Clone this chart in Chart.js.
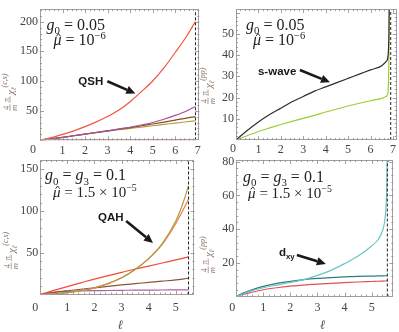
<!DOCTYPE html>
<html><head><meta charset="utf-8">
<script src="https://cdn.jsdelivr.net/npm/chart.js@4.4.1/dist/chart.umd.min.js"></script>
<style>
html,body{margin:0;padding:0;background:#fff;}
#wrap{position:relative;width:399px;height:332px;overflow:hidden;background:#fff;}
#wrap canvas{position:absolute;left:0;top:0;}
</style></head><body>
<div id="wrap">
<canvas id="c1" width="399" height="332"></canvas>
<canvas id="c2" width="399" height="332"></canvas>
<canvas id="c3" width="399" height="332"></canvas>
<canvas id="c4" width="399" height="332"></canvas>
</div>
<script>
// ---------- DATA ----------
// Panel 1 : chi^(c,s), g0 = 0.05
const p1Ell    = [0,0.5,1,1.5,2,2.5,3,3.5,4,4.5,5,5.5,6,6.5,6.9];
const p1Red    = [0,4.5,10,16,23,31,40,51,65,82,100,122,148,175,200];
const p1Purple = [0,2.5,5,7.7,10.5,13.2,16,19,22,25.8,30,35.5,42,49.5,57];
const p1Brown  = [0,2.5,5,7.7,10.5,13.2,16,18.7,21.5,24.5,27.5,30.7,34,37.5,40];
const p1Olive  = [0,2.5,5,7.7,10.5,13,15.5,17.8,20,22.3,24.5,26.8,29,31.3,33];
const p1Zero   = [0,0,0,0,0,0,0,0,0,0,0,0,0,0,0];
const p1Limit  = 6.9;
const p1YTicks = [0,50,100,150,200];

// Panel 2 : chi^(pp), g0 = 0.05
const p2Ell   = [0,0.5,1,1.5,2,2.5,3,3.5,4,4.5,5,5.5,6,6.5,6.7,6.78,6.82,6.84];
const p2Black = [0,4.5,8.5,12,15,18,20.5,23,25,27,29,31,33,35,37,39.5,50,70];
const p2Green = [0,2,4,5.7,7.3,8.8,10.2,11.6,13.2,14.6,16,17.3,18.5,19.6,20.5,22.5,40,70];
const p2Zero  = [0,0,0,0,0,0,0,0,0,0,0,0,0,0,0,0,0,0];
const p2Limit = 6.9;
const p2YTicks = [0,10,20,30,40,50];

// Panel 3 : chi^(c,s), g0 = g3 = 0.1
const p3Ell    = [0,0.5,1,1.5,2,2.5,3,3.5,4,4.5,5,5.25,5.47];
const p3Olive  = [0,0.8,2.3,4.6,8,13,20,30,43,61,88,108,130];
const p3Orange = [0,0.8,2.3,4.6,8,13,20,30,43,60,85,100,114];
const p3Red    = [0,5,9.5,14,18.5,22.5,26.5,30.5,34,37.7,41.5,43.3,45];
const p3Brown  = [0,2.5,4.5,6.3,8,9.8,11.5,13,14.5,16,17.5,18.5,19.5];
const p3Purple = [0,2.5,3.8,4.3,4.6,4.8,5,5.2,5.3,5.4,5.5,5.55,5.6];
const p3Zero   = [0,0,0,0,0,0,0,0,0,0,0,0,0];
const p3Limit  = 5.47;
const p3YTicks = [0,50,100,150];

// Panel 4 : chi^(pp), g0 = g3 = 0.1
const p4Ell  = [0,0.25,0.5,1,1.5,2,2.5,3,3.5,4,4.5,5,5.25,5.4,5.5,5.55,5.58];
const p4Cyan = [0,1.5,3,5.2,6.8,8.3,10,12.5,15.5,19.5,24,30,34,39,47,60,85];
const p4Teal = [0,2,3.5,6,7.8,9,10,10.7,11.2,11.6,11.9,12.1,12.2,12.25,12.3,12.3,12.3];
const p4Red  = [0,1.2,2.2,4,5.2,6.1,6.8,7.3,7.8,8.2,8.6,8.9,9.05,9.15,9.2,9.25,9.3];
const p4Zero = [0,0,0,0,0,0,0,0,0,0,0,0,0,0,0,0,0];
const p4Limit = 5.58;
const p4YTicks = [0,20,40,60,80];

// ---------- HELPERS ----------
const SERIF = '"Liberation Serif","DejaVu Serif",serif';
const SANS  = '"Liberation Sans","DejaVu Sans",sans-serif';

function pts(xs, ys){ return xs.map((x,i)=>({x:x, y:ys[i]})); }
function curve(label, xs, ys, color, order){
  return {label, data:pts(xs,ys), borderColor:color, borderWidth:1.2, pointRadius:0,
          fill:false, cubicInterpolationMode:'monotone', order};
}
function vline(xv, ymax){
  return {label:'limit', data:[{x:xv,y:0},{x:xv,y:ymax}], borderColor:'#222', borderWidth:1,
          borderDash:[3,2], pointRadius:0, fill:false, order:-5};
}

function drawRich(ctx, x, y, segs, size, color){
  let cx = x;
  ctx.fillStyle = color; ctx.strokeStyle = color;
  ctx.textBaseline = 'alphabetic'; ctx.textAlign = 'left';
  for (const s of segs){
    let fs = size, dy = 0;
    if (s.sub){ fs = size*0.68; dy = size*0.28; }
    if (s.sup){ fs = size*0.66; dy = -size*0.42; }
    ctx.font = (s.it?'italic ':'') + (s.b?'bold ':'') + fs + 'px ' + (s.sans?SANS:SERIF);
    ctx.fillText(s.t, cx, y+dy);
    const w = ctx.measureText(s.t).width;
    if (s.hat){
      ctx.lineWidth = 0.9;
      ctx.beginPath();
      ctx.moveTo(cx + w*0.35, y - fs*0.56);
      ctx.lineTo(cx + w*0.62, y - fs*0.74);
      ctx.lineTo(cx + w*0.89, y - fs*0.56);
      ctx.stroke();
    }
    cx += w;
  }
}

function drawArrow(ctx, x1, y1, x2, y2){
  const ang = Math.atan2(y2-y1, x2-x1);
  const hl = 9, hw = 4.2;
  const bx = x2 - hl*Math.cos(ang), by = y2 - hl*Math.sin(ang);
  ctx.strokeStyle = '#1a1a1a'; ctx.fillStyle = '#1a1a1a';
  ctx.lineWidth = 2.6; ctx.lineCap = 'butt';
  ctx.beginPath(); ctx.moveTo(x1,y1); ctx.lineTo(bx,by); ctx.stroke();
  ctx.beginPath();
  ctx.moveTo(x2,y2);
  ctx.lineTo(bx + hw*Math.sin(ang), by - hw*Math.cos(ang));
  ctx.lineTo(bx - hw*Math.sin(ang), by + hw*Math.cos(ang));
  ctx.closePath(); ctx.fill();
}

function drawYTitle(ctx, cx, cy, sup){
  ctx.save();
  ctx.translate(cx, cy);
  ctx.rotate(-Math.PI/2);
  const col = '#8a7264';
  ctx.fillStyle = col; ctx.strokeStyle = col;
  ctx.textBaseline = 'alphabetic'; ctx.textAlign = 'center';
  let x = -23;
  // fraction 4/m
  ctx.font = '8.5px ' + SERIF;
  ctx.fillText('4', x+3, -1.5);
  ctx.font = 'italic 8.5px ' + SERIF;
  ctx.fillText('m', x+3, 7);
  ctx.lineWidth = 0.7;
  ctx.beginPath(); ctx.moveTo(x, 0); ctx.lineTo(x+6.5, 0); ctx.stroke();
  x += 8;
  ctx.font = '8.5px ' + SERIF;
  ctx.fillText('\u03c0', x+3, -1.5);
  ctx.beginPath(); ctx.moveTo(x, 0); ctx.lineTo(x+6.5, 0); ctx.stroke();
  x += 8;
  ctx.textAlign = 'left';
  ctx.font = 'italic 11px ' + SERIF;
  ctx.fillText('\u03c7', x, 3.5);
  x += ctx.measureText('\u03c7').width;
  ctx.font = 'italic 7px ' + SERIF;
  ctx.fillText('\u2113', x, 6);
  x += 2.5;
  ctx.font = 'italic 8px ' + SERIF;
  ctx.fillText(sup, x, -3);
  ctx.restore();
}

const decoPlugin = {
  id:'panelDeco',
  afterDatasetsDraw(chart, args, o){
    const {ctx, chartArea:a, scales:{x, y}} = chart;
    ctx.save();
    // frame
    ctx.strokeStyle = '#a0a0a0'; ctx.lineWidth = 1;
    ctx.strokeRect(Math.round(a.left)+0.5, Math.round(a.top)+0.5,
                   Math.round(a.right-a.left)-1, Math.round(a.bottom-a.top)-1);
    // frame ticks
    ctx.strokeStyle = '#8a8a8a'; ctx.lineWidth = 0.8;
    ctx.beginPath();
    const xmax = x.max;
    for (let k=0; k*o.xMinor <= xmax+1e-9; k++){
      const v = k*o.xMinor;
      const major = Math.abs(v/o.xMajor - Math.round(v/o.xMajor)) < 1e-6;
      const L = major ? 4 : 2;
      const px = Math.round(x.getPixelForValue(v))+0.5;
      if (px < a.left+1 || px > a.right-1) continue;
      ctx.moveTo(px, a.bottom); ctx.lineTo(px, a.bottom-L);
      ctx.moveTo(px, a.top); ctx.lineTo(px, a.top+L);
    }
    for (let k=0; k*o.yMinor <= y.max+1e-9; k++){
      const v = k*o.yMinor;
      const major = Math.abs(v/o.yMajor - Math.round(v/o.yMajor)) < 1e-6;
      const L = major ? 4 : 2;
      const py = Math.round(y.getPixelForValue(v))+0.5;
      if (py < a.top+1 || py > a.bottom-1) continue;
      ctx.moveTo(a.left, py); ctx.lineTo(a.left+L, py);
      ctx.moveTo(a.right, py); ctx.lineTo(a.right-L, py);
    }
    ctx.stroke();
    // texts in data coords
    for (const t of o.texts){
      drawRich(ctx, x.getPixelForValue(t.l), y.getPixelForValue(t.v), t.segs, t.size, t.color||'#222');
    }
    for (const ar of o.arrows){
      drawArrow(ctx, x.getPixelForValue(ar[0]), y.getPixelForValue(ar[1]),
                     x.getPixelForValue(ar[2]), y.getPixelForValue(ar[3]));
    }
    // corner zero
    ctx.fillStyle = '#444'; ctx.font = '12px ' + SERIF;
    ctx.textAlign = 'center'; ctx.textBaseline = 'middle';
    ctx.fillText('0', a.left + o.zero[0], a.bottom + o.zero[1]);
    // axis titles
    drawYTitle(ctx, a.left + o.ytitle[0], a.top + o.ytitle[1]*(a.bottom-a.top), o.ysup);
    if (o.xtitle){
      ctx.fillStyle = '#555'; ctx.font = 'italic 13px ' + SERIF;
      ctx.textAlign = 'center'; ctx.textBaseline = 'middle';
      ctx.fillText('\u2113', a.left + o.xtitle[0]*(a.right-a.left), a.bottom + o.xtitle[1]);
    }
    ctx.restore();
  }
};

function makeChart(id, c){
  return new Chart(document.getElementById(id), {
    type:'line',
    data:{datasets:c.datasets},
    options:{
      responsive:false, animation:false, events:[],
      layout:{padding:c.pad},
      plugins:{legend:{display:false}, tooltip:{enabled:false}, panelDeco:c.deco},
      scales:{
        x:{type:'linear', min:0, max:c.xmax,
           grid:{display:false, drawTicks:false}, border:{display:false},
           ticks:{stepSize:1, includeBounds:false, autoSkip:false, maxRotation:0, padding:c.xpad,
                  color:'#444', font:{family:SERIF, size:12},
                  callback:(v)=> (v===0 || !Number.isInteger(v)) ? '' : String(v)},
           afterFit:(s)=>{ s.height = 20; }},
        y:{type:'linear', min:0, max:c.ymax,
           grid:{display:false, drawTicks:false}, border:{display:false},
           ticks:{stepSize:c.ystep, includeBounds:false, autoSkip:false, padding:2,
                  color:'#444', font:{family:SERIF, size:12},
                  callback:(v)=> (v!==0 && c.yticks.includes(v)) ? String(v) : ''},
           afterFit:(s)=>{ s.width = 40; }}
      }
    },
    plugins:[decoPlugin]
  });
}

const g0text = [{t:'g',it:true},{t:'0',sub:true},{t:' = 0.05'}];
const mu6text = [{t:'\u03bc',it:true,hat:true},{t:' = 10'},{t:'\u22126',sup:true}];
const g03text = [{t:'g',it:true},{t:'0',sub:true},{t:' = '},{t:'g',it:true},{t:'3',sub:true},{t:' = 0.1'}];
const mu5text = [{t:'\u03bc',it:true,hat:true},{t:' = 1.5 \u00d7 10'},{t:'\u22125',sup:true}];

// Panel 1
makeChart('c1', {
  xmax:7.07, ymax:221, ystep:50, yticks:p1YTicks, xpad:3,
  pad:{left:0, top:2, right:199.7, bottom:171.7},
  datasets:[
    vline(p1Limit, 221),
    curve('red', p1Ell, p1Red, '#f4553a', 1),
    curve('purple', p1Ell, p1Purple, '#a8509c', 2),
    curve('brown', p1Ell, p1Brown, '#8a4a2a', 3),
    curve('olive', p1Ell, p1Olive, '#b0a03c', 4),
    curve('zero', p1Ell, p1Zero, '#ec8a80', 5)
  ],
  deco:{xMajor:1, xMinor:0.2, yMajor:50, yMinor:10,
    texts:[{l:0.29, v:186, segs:g0text, size:16},
           {l:0.6, v:160, segs:mu6text, size:16},
           {l:1.7, v:93, segs:[{t:'QSH', b:true, sans:true}], size:11.5, color:'#1a1a1a'}],
    arrows:[[2.99,99.5,4.23,78.8]],
    zero:[-7,10], ytitle:[-30,0.6], ysup:'(c,s)', xtitle:null}
});

// Panel 2
makeChart('c2', {
  xmax:7.17, ymax:61.6, ystep:10, yticks:p2YTicks, xpad:3,
  pad:{left:196, top:2, right:2, bottom:172},
  datasets:[
    vline(p2Limit, 61.6),
    curve('black', p2Ell, p2Black, '#2e2e2e', 1),
    curve('green', p2Ell, p2Green, '#9ccc3a', 2),
    curve('zero', p2Ell, p2Zero, '#c88470', 3)
  ],
  deco:{xMajor:1, xMinor:0.2, yMajor:10, yMinor:2,
    texts:[{l:0.45, v:51.8, segs:g0text, size:16},
           {l:0.76, v:44.6, segs:mu6text, size:16},
           {l:0.98, v:30.8, segs:[{t:'s-wave', b:true, sans:true}], size:11.5, color:'#1a1a1a'}],
    arrows:[[2.85,33,4.19,27.2]],
    zero:[-3,9], ytitle:[-28,0.55], ysup:'(pp)', xtitle:null}
});

// Panel 3
makeChart('c3', {
  xmax:5.69, ymax:161, ystep:50, yticks:p3YTicks, xpad:6,
  pad:{left:0.2, top:160, right:204.5, bottom:17.5},
  datasets:[
    vline(p3Limit, 161),
    curve('olive', p3Ell, p3Olive, '#b09a44', 1),
    curve('orange', p3Ell, p3Orange, '#f47848', 2),
    curve('red', p3Ell, p3Red, '#f24a3a', 3),
    curve('brown', p3Ell, p3Brown, '#8c5436', 4),
    curve('purple', p3Ell, p3Purple, '#b45ca8', 5),
    curve('zero', p3Ell, p3Zero, '#e04848', 6)
  ],
  deco:{xMajor:1, xMinor:0.2, yMajor:50, yMinor:10,
    texts:[{l:0.18, v:137, segs:g03text, size:16},
           {l:0.47, v:116.6, segs:mu5text, size:15},
           {l:2.13, v:88, segs:[{t:'QAH', b:true, sans:true}], size:11.5, color:'#1a1a1a'}],
    arrows:[[3.17,88,4.16,61.6]],
    zero:[-5,13], ytitle:[-29,0.64], ysup:'(c,s)', xtitle:[0.52,31]}
});

// Panel 4
makeChart('c4', {
  xmax:5.8, ymax:81, ystep:20, yticks:p4YTicks, xpad:4,
  pad:{left:196.2, top:160, right:5.7, bottom:15.5},
  datasets:[
    vline(p4Limit, 81),
    curve('cyan', p4Ell, p4Cyan, '#6cc4c6', 1),
    curve('teal', p4Ell, p4Teal, '#2a7e7c', 2),
    curve('red', p4Ell, p4Red, '#e25252', 3),
    curve('zero', p4Ell, p4Zero, '#d4a034', 4)
  ],
  deco:{xMajor:1, xMinor:0.2, yMajor:20, yMinor:4,
    texts:[{l:0.25, v:68, segs:g03text, size:16},
           {l:0.44, v:58.5, segs:mu5text, size:15},
           {l:1.58, v:24, segs:[{t:'d', b:true, sans:true},{t:'xy', b:true, sans:true, sub:true}], size:11.5, color:'#1a1a1a'}],
    arrows:[[2.24,24.6,3.31,19.3]],
    zero:[-4,11], ytitle:[-28,0.66], ysup:'(pp)', xtitle:[0.55,29]}
});
</script>
</body></html>
